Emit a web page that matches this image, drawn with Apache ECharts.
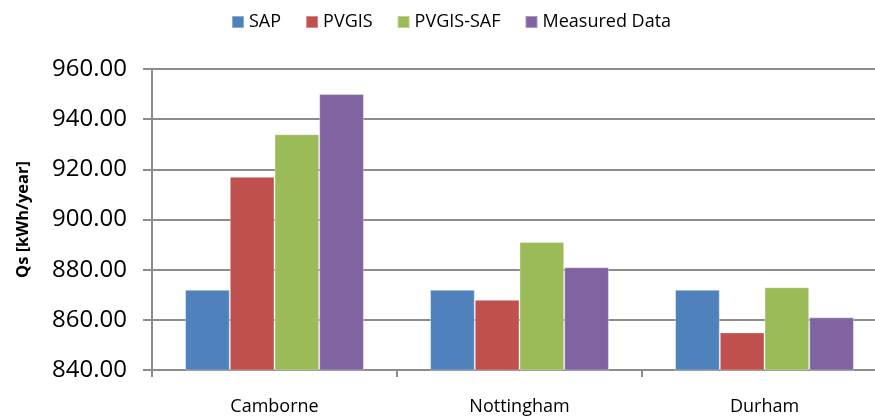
<!DOCTYPE html>
<html>
<head>
<meta charset="utf-8">
<script src="https://cdn.jsdelivr.net/npm/echarts@6/dist/echarts.min.js"></script>
<style>html,body{margin:0;padding:0;background:#fff}#c{width:875px;height:419px}</style>
</head>
<body>
<div id="c"></div>
<script>
const categories = ['Camborne', 'Nottingham', 'Durham'];
const seriesNames = ['SAP', 'PVGIS', 'PVGIS-SAF', 'Measured Data'];
const sap = [872, 872, 872];
const pvgis = [917, 868, 855];
const pvgisSaf = [934, 891, 873];
const measured = [950, 881, 861];
const yTicks = { min: 840, max: 960, interval: 20 };
const colors = ['#4f81bd', '#c0504d', '#9bbb59', '#8064a2'];

const FONT = 'Open Sans';
const chart = echarts.init(document.getElementById('c'), null, { renderer: 'canvas' });
const dataSets = [sap, pvgis, pvgisSaf, measured];
chart.setOption({
  animation: false,
  color: colors,
  textStyle: { fontFamily: FONT },
  legend: {
    left: 226, top: 8,
    itemWidth: 12, itemHeight: 12, itemGap: 24,
    icon: 'rect',
    textStyle: { fontFamily: FONT, fontSize: 18, color: '#000' },
    data: seriesNames
  },
  grid: { left: 152, top: 69, bottom: 49, right: -12, containLabel: false, outerBoundsMode: 'none' },
  xAxis: {
    type: 'category',
    data: categories,
    axisLine: { lineStyle: { color: '#8c8c8c', width: 2 } },
    axisTick: { show: true, length: 7, lineStyle: { color: '#8c8c8c', width: 2 } },
    axisLabel: { fontFamily: FONT, fontSize: 18, color: '#000', margin: 28 }
  },
  yAxis: {
    type: 'value',
    min: yTicks.min, max: yTicks.max, interval: yTicks.interval,
    name: 'Qs [kWh/year]',
    nameLocation: 'middle',
    nameGap: 120,
    nameTextStyle: { fontFamily: FONT, fontSize: 16.5, fontWeight: 'bold', color: '#000' },
    axisLine: { show: true, lineStyle: { color: '#8c8c8c', width: 2 } },
    axisTick: { show: true, length: 9, lineStyle: { color: '#8c8c8c', width: 2 } },
    axisLabel: { fontFamily: FONT, fontSize: 24, color: '#000', margin: 25,
      formatter: v => v.toFixed(2) },
    splitLine: { lineStyle: { color: '#8c8c8c', width: 2 } }
  },
  series: seriesNames.map((n, i) => ({
    name: n, type: 'bar', data: dataSets[i],
    barGap: '0%', barCategoryGap: '27%',
    itemStyle: { borderColor: 'rgba(255,255,255,0.35)', borderWidth: 1 }
  }))
});
</script>
</body>
</html>
